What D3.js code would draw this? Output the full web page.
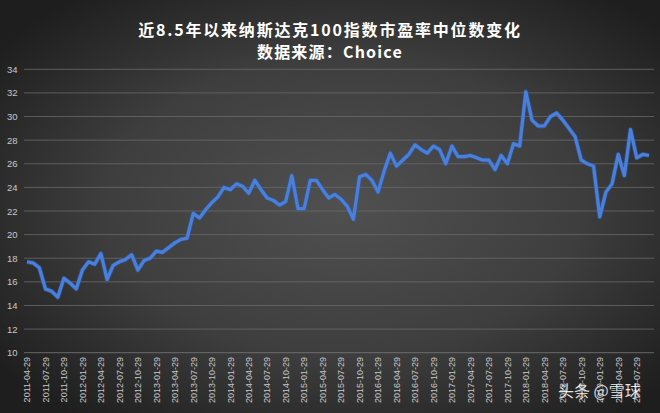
<!DOCTYPE html>
<html><head><meta charset="utf-8">
<script src="https://cdn.jsdelivr.net/npm/d3@7"></script>
<style>
html,body{margin:0;padding:0;background:#2a2a2a;}
svg{display:block;}
</style></head>
<body>
<svg id="chart" width="660" height="413"></svg>
<script>
const titleLines = ["近8.5年以来纳斯达克100指数市盈率中位数变化", "数据来源：Choice"];
const watermark = "头条 @雪球";
const startYear = 2011, startMonth = 4, monthCount = 102;
const categories = [];
for (let i = 0; i < monthCount; i++) {
  const m = startMonth - 1 + i;
  const y = startYear + Math.floor(m / 12);
  const mm = (m % 12) + 1;
  categories.push(y + "-" + String(mm).padStart(2, "0") + "-29");
}
const peValues = [
  17.7, 17.6, 17.2, 15.4, 15.2, 14.7, 16.3, 15.9, 15.4, 17.0,
  17.7, 17.5, 18.4, 16.2, 17.4, 17.7, 17.9, 18.3, 17.0, 17.8,
  18.0, 18.6, 18.5, 18.9, 19.3, 19.6, 19.7, 21.8, 21.4, 22.1,
  22.7, 23.2, 24.0, 23.8, 24.3, 24.1, 23.5, 24.6, 23.8, 23.1,
  22.9, 22.5, 22.8, 25.0, 22.2, 22.2, 24.6, 24.6, 23.8, 23.1,
  23.4, 23.0, 22.4, 21.3, 24.9, 25.1, 24.6, 23.6, 25.4, 26.9,
  25.8, 26.3, 26.8, 27.6, 27.2, 26.9, 27.5, 27.2, 26.0, 27.5,
  26.6, 26.6, 26.7, 26.5, 26.3, 26.3, 25.5, 26.7, 26.0, 27.7,
  27.5, 32.1, 29.7, 29.2, 29.2, 30.0, 30.3, 29.7, 29.0, 28.3,
  26.3, 26.0, 25.8, 21.5, 23.6, 24.3, 26.8, 25.0, 28.9, 26.5,
  26.8, 26.7
];
const yTicks = [10, 12, 14, 16, 18, 20, 22, 24, 26, 28, 30, 32, 34];
const xTickLabels = [
  "2011-04-29","2011-07-29","2011-10-29","2012-01-29","2012-04-29","2012-07-29","2012-10-29",
  "2013-01-29","2013-04-29","2013-07-29","2013-10-29","2014-01-29","2014-04-29","2014-07-29","2014-10-29",
  "2015-01-29","2015-04-29","2015-07-29","2015-10-29","2016-01-29","2016-04-29","2016-07-29","2016-10-29",
  "2017-01-29","2017-04-29","2017-07-29","2017-10-29","2018-01-29","2018-04-29","2018-07-29","2018-10-29",
  "2019-01-29","2019-04-29","2019-07-29"
];

const W = 660, H = 413;
const svg = d3.select("#chart");
const defs = svg.append("defs");
const rg = defs.append("radialGradient").attr("id", "bg")
  .attr("cx", "52%").attr("cy", "50%").attr("r", "65%");
rg.append("stop").attr("offset", "0%").attr("stop-color", "#505050");
rg.append("stop").attr("offset", "55%").attr("stop-color", "#3e3e3e");
rg.append("stop").attr("offset", "100%").attr("stop-color", "#1e1e1e");
svg.append("rect").attr("width", W).attr("height", H).attr("fill", "url(#bg)");

const x = d3.scalePoint().domain(categories).range([27, 649]);
const y = d3.scaleLinear().domain([10, 34]).range([352.7, 69.3]);
const gridX0 = 24, gridX1 = 654;

// gridlines
svg.append("g").selectAll("line").data(yTicks).join("line")
  .attr("x1", gridX0).attr("x2", gridX1)
  .attr("y1", d => y(d)).attr("y2", d => y(d))
  .attr("stroke", d => d === 10 ? "#7a7a7a" : "#6a6a6a")
  .attr("stroke-width", 0.8);

// y labels
svg.append("g").selectAll("text").data(yTicks).join("text")
  .attr("x", 7).attr("y", d => y(d) + 3.5)
  .attr("fill", "#c8c8c8")
  .attr("font-family", "Liberation Sans, Arial, sans-serif")
  .attr("font-size", 9.5)
  .text(d => d);

// x labels
svg.append("g").selectAll("text").data(xTickLabels).join("text")
  .attr("transform", d => `translate(${x(d) + 3.3},${357}) rotate(-90)`)
  .attr("text-anchor", "end")
  .attr("fill", "#c8c8c8")
  .attr("font-family", "Liberation Sans, Arial, sans-serif")
  .attr("font-size", 9)
  .text(d => d);

// line
const line = d3.line().x((d, i) => x(categories[i])).y(d => y(d));
svg.append("path").datum(peValues)
  .attr("d", line)
  .attr("fill", "none")
  .attr("stroke", "#2f5fae")
  .attr("stroke-width", 4.8)
  .attr("stroke-linejoin", "round")
  .attr("opacity", 0.6);
svg.append("path").datum(peValues)
  .attr("d", line)
  .attr("fill", "none")
  .attr("stroke", "#4a80dc")
  .attr("stroke-width", 3.2)
  .attr("stroke-linejoin", "round");

// title
svg.append("g").selectAll("text").data(titleLines).join("text")
  .attr("x", 330).attr("y", (d, i) => 36 + i * 22)
  .attr("text-anchor", "middle")
  .attr("fill", "#ffffff")
  .attr("font-weight", "bold")
  .attr("font-family", "Noto Sans CJK SC, sans-serif")
  .attr("font-size", 16)
  .attr("letter-spacing", (d, i) => i === 0 ? 1.8 : 1.2)
  .text(d => d);

// watermark
svg.append("text").attr("x", 558).attr("y", 397)
  .attr("fill", "#ffffff")
  .attr("font-family", "Noto Sans CJK SC, sans-serif")
  .attr("font-size", 16)
  .attr("stroke", "#000").attr("stroke-width", 0.4).attr("stroke-opacity", 0.4)
  .text(watermark);
</script>
</body></html>
